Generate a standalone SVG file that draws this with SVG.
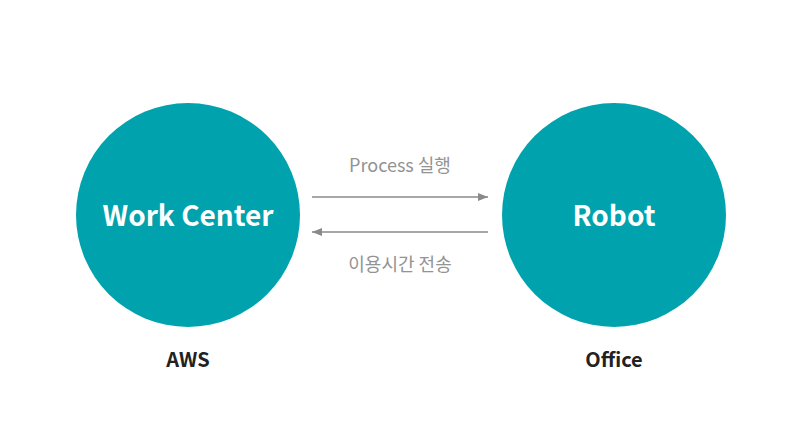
<svg xmlns="http://www.w3.org/2000/svg" width="800" height="430" viewBox="0 0 800 430">
<style>
.node{fill:#00A3AD}
.t{font-family:"Noto Sans CJK KR","Noto Sans",sans-serif;text-anchor:middle}
.in{fill:#fff;font-size:28px;font-weight:bold}
.sub{fill:#222;font-size:20px;font-weight:bold}
.lbl{fill:#939393;font-size:18px}
.c{stroke:#8a8a8a;stroke-width:1.3;fill:none}
</style>
<defs>
<marker id="ah" viewBox="0 0 10 8" refX="10" refY="4" markerWidth="10" markerHeight="8" markerUnits="userSpaceOnUse" orient="auto">
<path d="M0,0 L10,4 L0,8 Z" fill="#8a8a8a"/>
</marker>
</defs>
<rect width="800" height="430" fill="#fff"/>
<g id="work-center">
<circle class="node" cx="188" cy="215" r="112"/>
<text class="t in" x="188" y="226">Work Center</text>
<text class="t sub" x="188" y="367">AWS</text>
</g>
<g id="robot">
<circle class="node" cx="614" cy="215" r="112"/>
<text class="t in" x="614" y="226">Robot</text>
<text class="t sub" x="614" y="367">Office</text>
</g>
<g id="connectors">
<line class="c" x1="312" y1="197" x2="488" y2="197" marker-end="url(#ah)"/>
<line class="c" x1="488" y1="232" x2="312" y2="232" marker-end="url(#ah)"/>
<text class="t lbl" x="400" y="172">Process 실행</text>
<text class="t lbl" x="400" y="271">이용시간 전송</text>
</g>
</svg>
